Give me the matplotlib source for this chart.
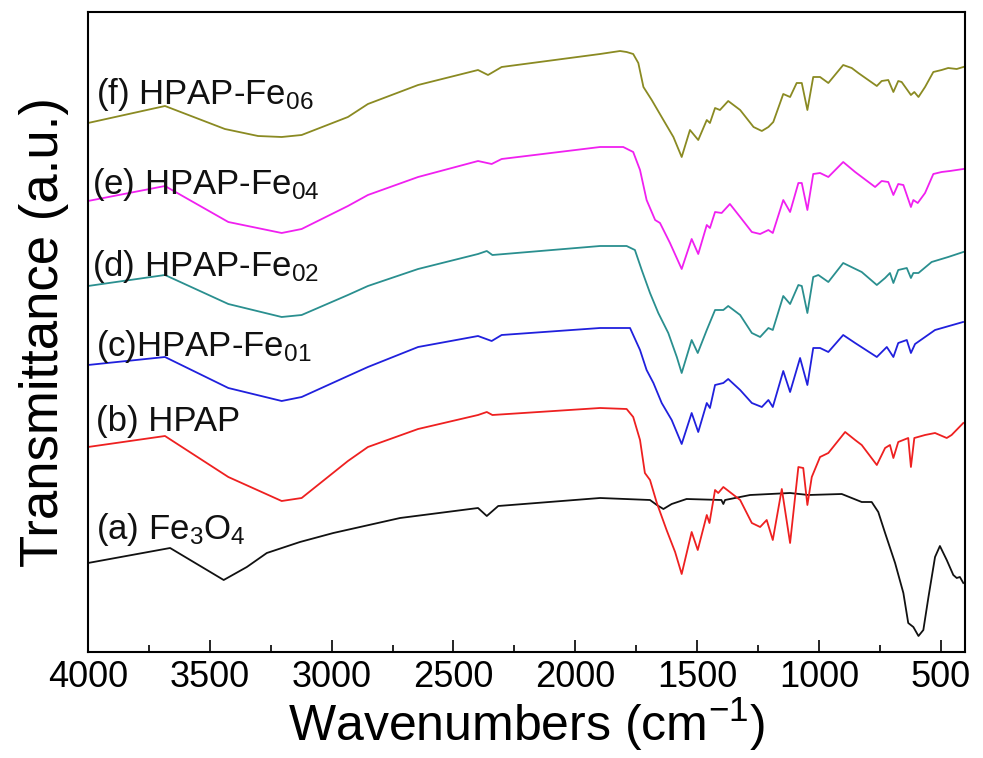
import matplotlib
matplotlib.use("Agg")
import matplotlib.pyplot as plt
from matplotlib.ticker import MultipleLocator

plt.rcParams['font.family'] = ['Liberation Sans', 'DejaVu Sans']
plt.rcParams['mathtext.fontset'] = 'custom'
plt.rcParams['mathtext.rm'] = 'Liberation Sans'
plt.rcParams['mathtext.it'] = 'Liberation Sans'
plt.rcParams['mathtext.bf'] = 'Liberation Sans'

# ---- data (wavenumber in cm-1, transmittance in arbitrary offset units) ----
wn_f = [4000, 3684, 3438, 3302, 3205, 3123, 2933, 2851, 2645, 2399, 2358, 2302, 1898, 1816, 1789, 1762, 1741, 1720,
        1686, 1638, 1597, 1563, 1529, 1495, 1460, 1447, 1426, 1406, 1372, 1323, 1268, 1234, 1207, 1187, 1146, 1118,
        1091, 1070, 1047, 1023, 995, 961, 900, 865, 838, 762, 742, 715, 694, 674, 660, 622, 608, 591, 564, 530, 496,
        469, 434, 407]
t_f = [529, 546, 523, 516, 515, 517, 535, 548, 567, 582, 577, 585, 598, 601, 600, 598, 589, 565,
       552, 532, 515, 495, 522, 512, 532, 529, 544, 542, 551, 542, 525, 521, 525, 530, 558, 555,
       569, 569, 542, 575, 575, 569, 587, 584, 579, 566, 571, 572, 560, 571, 570, 557, 560, 555, 565, 580, 582,
       584, 583, 585]

wn_e = [4000, 3684, 3424, 3205, 3123, 2933, 2851, 2645, 2399, 2343, 2302, 1898, 1803, 1762, 1734, 1707, 1672, 1652,
        1611, 1563, 1522, 1495, 1460, 1447, 1426, 1399, 1365, 1323, 1275, 1241, 1207, 1189, 1146, 1118, 1084, 1070,
        1047, 1023, 995, 961, 900, 851, 769, 742, 715, 694, 674, 653, 622, 612, 594, 564, 530, 496, 462, 407]
t_e = [451, 466, 430, 419, 423, 446, 457, 475, 491, 488, 493, 505, 505, 500, 482, 452, 432, 429,
       409, 383, 413, 398, 427, 424, 440, 439, 448, 435, 420, 418, 422, 419, 452, 440, 469, 469,
       442, 478, 479, 475, 490, 480, 465, 471, 470, 457, 468, 467, 445, 452, 449, 459, 478, 480, 481, 483]

wn_d = [4000, 3684, 3424, 3205, 3123, 2933, 2851, 2645, 2399, 2363, 2340, 1898, 1789, 1755, 1727, 1693, 1659, 1618,
        1583, 1563, 1522, 1497, 1460, 1426, 1392, 1372, 1323, 1275, 1241, 1207, 1189, 1146, 1118, 1084, 1070, 1047,
        1023, 1002, 961, 900, 858, 824, 762, 728, 708, 694, 674, 639, 622, 612, 591, 537, 469, 407]
t_d = [366, 377, 348, 335, 337, 357, 366, 383, 398, 401, 397, 406, 406, 402, 382, 359, 339, 319,
       295, 279, 312, 299, 322, 342, 342, 346, 337, 319, 315, 324, 322, 356, 348, 367, 366, 339,
       375, 377, 370, 389, 384, 380, 367, 374, 379, 369, 382, 384, 374, 379, 379, 390, 395, 400]

wn_c = [4000, 3684, 3424, 3205, 3123, 2933, 2851, 2645, 2399, 2343, 2302, 1898, 1775, 1762, 1734, 1707, 1679, 1645,
        1604, 1563, 1522, 1495, 1460, 1447, 1426, 1392, 1372, 1323, 1275, 1234, 1207, 1189, 1146, 1118, 1077, 1047,
        1023, 995, 961, 900, 851, 762, 721, 694, 674, 639, 622, 605, 564, 523, 408]
t_c = [287, 295, 264, 251, 255, 276, 285, 305, 316, 311, 317, 324, 324, 317, 302, 282, 269, 249,
       232, 208, 239, 220, 249, 244, 267, 269, 273, 262, 249, 245, 252, 245, 281, 260, 294, 267,
       304, 304, 300, 317, 309, 295, 305, 295, 309, 312, 299, 308, 315, 322, 330]

wn_b = [4000, 3684, 3424, 3205, 3123, 2933, 2851, 2645, 2399, 2363, 2340, 1898, 1789, 1762, 1734, 1714, 1693, 1665,
        1625, 1590, 1563, 1522, 1497, 1460, 1449, 1426, 1413, 1392, 1323, 1275, 1241, 1214, 1189, 1152, 1118, 1084,
        1064, 1047, 1029, 995, 961, 892, 851, 824, 762, 728, 708, 694, 674, 633, 622, 608, 564, 523, 475, 455, 407]
t_b = [205, 216, 175, 151, 154, 191, 205, 223, 237, 240, 237, 244, 243, 235, 212, 179, 172, 149,
       122, 100, 78, 120, 102, 137, 129, 162, 159, 165, 152, 129, 125, 132, 112, 163, 109, 185,
       184, 147, 175, 195, 199, 220, 212, 207, 187, 204, 207, 194, 210, 214, 185, 214, 217, 219, 214, 217, 229]

wn_a = [4000, 3663, 3443, 3348, 3266, 3130, 2993, 2719, 2399, 2363, 2316, 1898, 1693, 1665, 1638, 1604, 1543, 1400,
        1392, 1385, 1282, 1118, 1043, 906, 824, 783, 756, 728, 687, 653, 633, 612, 591, 571, 550, 523, 503, 475,
        448, 434, 421, 407]
t_a = [89, 104, 72, 85, 99, 110, 119, 134, 144, 136, 146, 154, 152, 147, 143, 148, 153, 152,
       148, 152, 157, 159, 157, 158, 150, 150, 140, 119, 89, 59, 29, 25, 16, 22, 55, 95, 106, 92,
       77, 74, 75, 69]

labels = ["(a) Fe$_{3}$O$_{4}$", "(b) HPAP", "(c)HPAP-Fe$_{01}$",
          "(d) HPAP-Fe$_{02}$", "(e) HPAP-Fe$_{04}$", "(f) HPAP-Fe$_{06}$"]
xticks = [4000, 3500, 3000, 2500, 2000, 1500, 1000, 500]

series = [(wn_a, t_a), (wn_b, t_b), (wn_c, t_c), (wn_d, t_d), (wn_e, t_e), (wn_f, t_f)]
colors = ['#111111', '#ee2020', '#2020dd', '#2a8f8f', '#f020f0', '#8a8a22']
label_pos = [(3966, 127), (3966, 234), (3966, 310), (3982, 390), (3982, 472), (3966, 562)]

fig = plt.figure(figsize=(9.83, 7.58), dpi=100)
ax = fig.add_axes([88 / 983, 1 - 652 / 758, (965 - 88) / 983, (652 - 12) / 758])

for (w, t), c in zip(series, colors):
    ax.plot(w, t, color=c, lw=1.3)

for (x, y), lab, in zip(label_pos, labels):
    ax.text(x, y, lab, fontsize=25, ha='left', va='center_baseline', color='#111111')

ax.set_xlim(4000, 400)
ax.set_ylim(0, 640)
ax.set_xticks(xticks)
ax.xaxis.set_minor_locator(MultipleLocator(250))
ax.set_yticks([])
ax.tick_params(axis='x', which='major', direction='in', length=9, width=1.2, labelsize=26, pad=6)
ax.tick_params(axis='x', which='minor', direction='in', length=5, width=1.2)
for s in ax.spines.values():
    s.set_linewidth(1.5)
ax.set_xlabel("Wavenumbers (cm$^{-1}$)", fontsize=36, labelpad=0)
ax.set_ylabel("Transmittance (a.u.)", fontsize=38, labelpad=14)

fig.savefig("out.png", dpi=100)
